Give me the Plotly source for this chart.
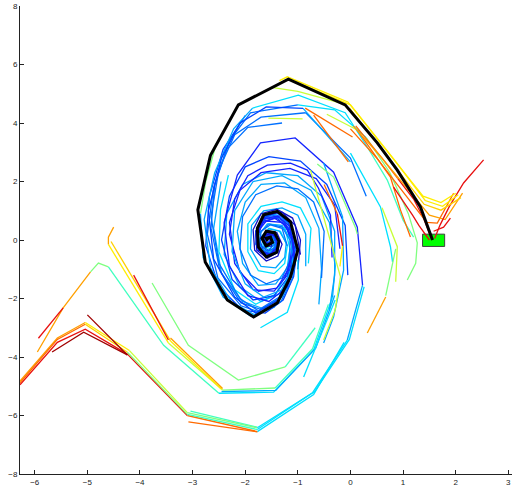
import plotly.graph_objects as go

# ---------------- data: trajectory pieces (x, y) in data units ----------------
black_path = [(1.56,0.0),(1.33,1.13),(0.89,2.39),(0.51,3.32),(-0.1,4.62),(-1.18,5.5),(-2.13,4.62),
              (-2.66,2.9),(-2.9,1.03),(-2.76,-0.75),(-2.34,-2.05),(-1.84,-2.63),(-1.39,-2.15),(-1.14,-1.26),
              (-1.0,-0.34),(-1.14,0.62),(-1.39,0.98),(-1.65,0.86),(-1.77,0.4),(-1.75,-0.24),(-1.6,-0.58),
              (-1.4,-0.42),(-1.36,-0.05),(-1.44,0.25),(-1.6,0.3),(-1.68,0.05),(-1.6,-0.2),(-1.48,-0.08),
              (-1.52,0.1),(-1.6,0.06),(-1.57,-0.03)]

# lower-left wave bundle
wave_a_or = [(-6.28,-4.88),(-5.57,-3.4),(-5.04,-2.88)]
wave_a_ye = [(-5.04,-2.88),(-4.24,-3.84)]
wave_a_gr = [(-4.24,-3.84),(-3.1,-5.96)]
wave_a_te = [(-3.1,-5.96),(-1.77,-6.48)]
wave_a_cy = [(-1.77,-6.48),(-0.72,-5.22),(-0.06,-3.42)]
wave_a_sk = [(-0.06,-3.42),(0.23,-1.54)]
wave_b_rd = [(-6.28,-4.95),(-5.57,-3.5),(-5.04,-3.05),(-4.24,-3.9),(-3.1,-6.0)]
wave_b_or = [(-3.1,-6.0),(-1.77,-6.55)]
wave_b_cy = [(-1.77,-6.55),(-0.7,-5.28),(-0.12,-3.5)]
wave_c_am = [(-6.28,-4.82),(-5.57,-3.35),(-5.04,-2.82)]
wave_c_ye = [(-5.04,-2.82),(-4.2,-3.78)]
wave_c_yg = [(-4.2,-3.78),(-3.1,-5.9)]
wave_c_gr = [(-3.1,-5.9),(-1.77,-6.42)]
wave_c_cy = [(-1.77,-6.42),(-0.68,-5.18),(-0.02,-3.4),(0.26,-1.6)]
low_or = [(-3.08,-6.22),(-1.77,-6.56)]
low_te = [(-3.04,-5.85),(-1.77,-6.4)]
wu_or = [(-5.95,-3.83),(-5.46,-2.32),(-4.94,-1.09)]
wu_rd = [(-5.93,-3.36),(-5.46,-2.32)]
wu_gr = [(-4.94,-1.09),(-4.79,-0.79),(-4.6,-0.92)]
wu_te = [(-4.6,-0.92),(-3.55,-3.6),(-2.5,-5.24)]
wu_cy = [(-2.5,-5.24),(-1.46,-5.2),(-0.7,-3.76),(-0.34,-1.95)]
wu2_cy = [(-2.45,-5.18),(-1.42,-5.14),(-0.66,-3.7),(-0.3,-1.9)]
wy_am = [(-4.5,0.44),(-4.6,0.1),(-4.6,-0.15)]
wy_ye = [(-4.6,-0.15),(-3.46,-3.52)]
wy_yg = [(-3.46,-3.52),(-2.43,-5.13)]
wy_gr = [(-2.43,-5.13),(-1.43,-5.06)]
wy_te = [(-1.43,-5.06),(-0.72,-3.72),(-0.42,-2.2)]
wy2_go = [(-4.55,-0.05),(-3.42,-3.45)]
wy2_ye = [(-3.42,-3.45),(-2.45,-5.1)]
mid_am = [(-3.42,-3.35),(-2.43,-5.08)]
mid_rd = [(-4.12,-1.2),(-3.46,-3.42)]
mid_gr = [(-3.77,-1.47),(-3.08,-3.6),(-2.13,-4.79),(-1.24,-4.34)]
mid_te = [(-1.24,-4.34),(-0.67,-3.0)]
dr_a = [(-5.0,-2.56),(-4.24,-3.93)]
dr_b = [(-5.67,-3.83),(-5.07,-3.15),(-4.24,-3.93)]

# upper-right bundle near the box
ub_y1 = [(2.0,1.6),(1.72,1.28),(1.38,1.5),(0.78,2.85),(-0.05,4.72),(-1.2,5.58),(-1.35,5.45)]
ub_y2 = [(2.05,1.55),(1.75,1.15),(1.42,1.35),(0.85,2.7),(0.0,4.62),(-1.1,5.45)]
ub_y3 = [(2.1,1.45),(1.72,1.02),(1.4,1.22),(0.8,2.6),(-0.02,4.52)]
ub_o1 = [(2.13,1.6),(1.8,0.7),(1.5,0.85),(1.15,1.6),(0.6,2.8),(0.05,3.9)]
ub_o2 = [(1.96,1.6),(1.65,0.58),(1.45,0.6),(1.1,1.4),(0.5,2.8),(0.0,3.8)]
ub_r1 = [(2.53,2.74),(2.15,1.95),(1.88,1.15),(1.7,0.5),(1.6,0.05)]
ub_r2 = [(1.9,0.75),(1.77,0.44),(1.58,0.3)]
ub_r3 = [(1.55,0.0),(1.4,0.7),(1.2,1.4),(0.9,2.1)]
ub_r3o = [(0.9,2.1),(0.6,2.8),(0.1,3.9)]
ub_r4 = [(1.5,0.0),(1.3,0.5),(1.18,0.85),(0.82,1.81)]
ub_o3 = [(1.14,0.1),(0.95,1.03),(0.76,2.15),(0.13,3.76)]
ub_o3g = [(0.13,3.76),(-0.45,4.3)]
ub_te = [(1.2,0.1),(1.0,0.68),(0.7,2.05),(0.32,3.18)]
ub_tec = [(0.32,3.18),(-0.1,4.35),(-0.99,4.95),(-1.86,4.51)]
ub_gr = [(1.08,-1.37),(1.24,-0.8),(1.27,-0.1),(1.1,0.9),(0.75,2.3),(0.3,3.5)]
ub_grc = [(0.3,3.5),(-0.3,4.45),(-1.0,4.62)]
top_yg = [(-0.13,4.65),(-1.0,5.08),(-1.5,5.22)]
in_or1 = [(-0.86,4.51),(0.04,3.52)]
in_or2 = [(-0.7,4.27),(-0.04,2.67)]
in_yg = [(-1.56,4.17),(-0.91,4.14)]

# spiral strands
sp1 = [(0.23,-1.54),(0.13,0.44),(-0.32,2.32),(-1.05,3.49),(-1.71,3.32),(-2.15,2.22),(-2.4,0.6),(-2.3,-0.9),
       (-1.95,-1.9),(-1.55,-2.1),(-1.2,-1.6),(-1.05,-0.8),(-1.1,0.1),(-1.3,0.6),(-1.6,0.65),(-1.8,0.2),
       (-1.75,-0.35),(-1.55,-0.5),(-1.38,-0.25),(-1.42,0.15),(-1.58,0.22),(-1.66,0.0),(-1.58,-0.15),(-1.5,0.0),(-1.56,0.05)]
sp2 = [(-0.34,-1.95),(-0.29,-0.9),(-0.4,0.6),(-0.75,1.7),(-1.3,2.2),(-1.85,2.0),(-2.2,1.0),(-2.25,-0.4),
       (-2.0,-1.5),(-1.65,-1.95),(-1.3,-1.7),(-1.1,-0.9),(-1.12,-0.05),(-1.3,0.5),(-1.58,0.55),(-1.75,0.15),
       (-1.7,-0.3),(-1.52,-0.42),(-1.42,-0.15),(-1.5,0.12),(-1.6,0.08),(-1.57,-0.05)]
sp3a = [(0.0,2.67),(-0.9,4.5)]
sp3 = [(-0.9,4.5),(-1.6,4.55),(-2.1,4.0),(-2.45,2.8),(-2.7,1.0),(-2.6,-0.65),(-2.2,-1.95),(-1.8,-2.5),
       (-1.38,-2.05),(-1.15,-1.2),(-1.05,-0.35),(-1.18,0.6),(-1.4,0.95),(-1.66,0.75),(-1.76,0.22),(-1.7,-0.4),
       (-1.52,-0.55),(-1.4,-0.25),(-1.44,0.14),(-1.58,0.25),(-1.64,0.02),(-1.57,-0.12),(-1.52,0.0)]
sp4a = [(0.3,1.5),(0.0,2.8),(-0.85,4.35)]
sp4 = [(-0.85,4.35),(-1.7,4.2),(-2.2,3.6),(-2.5,2.4),(-2.65,0.8),(-2.5,-0.8),(-2.1,-2.0),(-1.75,-2.42),
       (-1.35,-2.0),(-1.12,-1.1),(-1.1,-0.2),(-1.25,0.62),(-1.5,0.88),(-1.72,0.6),(-1.78,0.05),(-1.62,-0.45),
       (-1.45,-0.4),(-1.4,-0.05),(-1.5,0.2),(-1.62,0.12),(-1.6,-0.08)]
sp5 = [(-1.86,4.51),(-2.22,3.8),(-2.58,2.3),(-2.78,0.7),(-2.66,-0.95),(-2.26,-2.12),(-1.82,-2.56),(-1.42,-2.2),
       (-1.18,-1.4),(-1.06,-0.5),(-1.14,0.45),(-1.36,0.9),(-1.64,0.8),(-1.8,0.3),(-1.76,-0.3),(-1.56,-0.55),
       (-1.4,-0.35),(-1.38,0.05),(-1.5,0.24),(-1.64,0.14),(-1.62,-0.1),(-1.54,-0.08)]
sp6 = [(-1.0,4.62),(-1.9,4.35),(-2.3,3.4),(-2.6,1.8),(-2.72,0.2),(-2.52,-1.3),(-2.08,-2.25),(-1.7,-2.48),
       (-1.32,-2.1),(-1.1,-1.3),(-1.02,-0.45),(-1.12,0.4),(-1.32,0.82),(-1.6,0.82),(-1.78,0.42),(-1.8,-0.15),
       (-1.64,-0.52),(-1.44,-0.48),(-1.36,-0.15),(-1.44,0.18),(-1.58,0.22),(-1.64,0.04),(-1.56,-0.06)]
sp7g = [(-2.55,3.3),(-2.75,2.0),(-2.85,0.9)]
sp7 = [(-2.85,0.9),(-2.8,-0.6),(-2.42,-1.95),(-1.9,-2.6),(-1.45,-2.3),(-1.2,-1.6),(-1.08,-0.7)]
sp8 = [(-2.32,2.22),(-2.47,1.03),(-2.5,-0.4),(-2.2,-1.7),(-1.8,-2.2),(-1.42,-1.85),(-1.2,-1.1),(-1.15,-0.3),(-1.25,0.45)]
sp9 = [(-2.46,2.0),(-2.6,0.4),(-2.45,-1.15),(-2.05,-2.1),(-1.65,-2.35),(-1.3,-1.95),(-1.1,-1.15),(-1.08,-0.2)]
sp10 = [(-2.0,4.25),(-2.42,3.1),(-2.68,1.5),(-2.75,-0.2),(-2.5,-1.6),(-2.05,-2.4),(-1.62,-2.5),(-1.28,-2.05),
        (-1.08,-1.25),(-1.02,-0.4)]
sp11 = [(-1.3,4.0),(-1.95,3.85),(-2.35,3.1),(-2.58,1.9),(-2.65,0.4),(-2.48,-1.05),(-2.08,-2.15),(-1.72,-2.36),
        (-1.35,-1.95),(-1.15,-1.2)]
m1 = [(-0.35,-0.6),(-0.38,0.85),(-0.61,1.78),(-0.82,2.39),(-1.14,2.63),(-1.58,2.56),(-1.95,2.2),(-2.2,1.4),
      (-2.3,0.2),(-2.1,-1.1),(-1.75,-1.75),(-1.4,-1.65),(-1.18,-1.0),(-1.1,-0.2),(-1.22,0.48),(-1.45,0.75),
      (-1.68,0.58),(-1.76,0.1),(-1.65,-0.35),(-1.48,-0.38),(-1.42,-0.1),(-1.5,0.12),(-1.6,0.1),(-1.58,-0.04)]
m2 = [(-0.55,-1.3),(-0.5,0.3),(-0.7,1.3),(-1.0,1.75),(-1.4,1.85),(-1.8,1.55),(-2.05,0.8),(-2.1,-0.3),
      (-1.9,-1.2),(-1.6,-1.5),(-1.3,-1.3),(-1.15,-0.7),(-1.15,0.0),(-1.3,0.45),(-1.55,0.55),(-1.72,0.25),
      (-1.7,-0.2),(-1.55,-0.35),(-1.45,-0.15),(-1.5,0.08),(-1.6,0.06)]
m3 = [(-0.8,-0.8),(-0.75,0.4),(-0.95,1.1),(-1.3,1.3),(-1.7,1.15),(-1.95,0.55),(-1.95,-0.4),(-1.75,-1.05),
      (-1.45,-1.15),(-1.25,-0.8),(-1.2,-0.2),(-1.33,0.3),(-1.55,0.4),(-1.68,0.15),(-1.66,-0.2),(-1.52,-0.3),(-1.46,-0.08)]
m4 = [(-0.05,-1.2),(-0.1,0.5),(-0.45,1.9),(-0.95,2.7),(-1.55,2.85),(-2.0,2.5),(-2.3,1.5),(-2.45,0.0),
      (-2.25,-1.35),(-1.85,-2.05),(-1.45,-1.9),(-1.2,-1.3),(-1.08,-0.5),(-1.15,0.35),(-1.35,0.78),(-1.62,0.72),
      (-1.78,0.25),(-1.72,-0.35),(-1.52,-0.48),(-1.4,-0.2),(-1.46,0.14),(-1.58,0.16),(-1.6,-0.02)]
m5 = [(-0.6,-2.2),(-0.55,-1.0),(-0.6,0.4),(-0.85,1.45),(-1.25,1.95),(-1.7,1.9),(-2.0,1.3),(-2.15,0.3),
      (-2.05,-0.8),(-1.75,-1.55),(-1.42,-1.5),(-1.2,-0.95),(-1.15,-0.3)]
m6 = [(-0.2,-0.3),(-0.3,1.2),(-0.65,2.1),(-1.15,2.45),(-1.7,2.3),(-2.1,1.7),(-2.3,0.6),(-2.2,-0.8),(-1.85,-1.7),
      (-1.45,-1.75),(-1.2,-1.2),(-1.1,-0.4),(-1.18,0.4),(-1.4,0.75),(-1.65,0.65),(-1.77,0.15),(-1.68,-0.38),
      (-1.5,-0.45),(-1.4,-0.15),(-1.48,0.14),(-1.6,0.12)]
m7 = [(-0.85,-0.9),(-0.85,0.2),(-1.0,0.85),(-1.3,1.1),(-1.65,1.0),(-1.88,0.5),(-1.9,-0.3),(-1.7,-0.9),
      (-1.42,-0.95),(-1.25,-0.6),(-1.22,-0.1),(-1.35,0.3),(-1.55,0.38),(-1.66,0.12),(-1.62,-0.18),(-1.5,-0.22)]
m8 = [(-0.4,-2.4),(-0.3,-1.2),(-0.3,0.3),(-0.55,1.5),(-1.0,2.2),(-1.6,2.3),(-2.05,1.9),(-2.35,0.9),(-2.4,-0.5),
      (-2.1,-1.6),(-1.7,-2.1),(-1.35,-1.85),(-1.15,-1.15),(-1.1,-0.35)]
m9 = [(-1.0,-1.0),(-0.95,0.0),(-1.1,0.75),(-1.4,1.05),(-1.7,0.9),(-1.85,0.35),(-1.82,-0.35),(-1.6,-0.72),
      (-1.38,-0.55),(-1.3,-0.15),(-1.4,0.25),(-1.58,0.32),(-1.7,0.08),(-1.62,-0.22),(-1.5,-0.2),(-1.5,0.0)]
i1 = [(-0.95,-0.5),(-1.05,0.5),(-1.3,0.95),(-1.62,0.85),(-1.8,0.3),(-1.78,-0.35),(-1.58,-0.62),(-1.38,-0.42),
      (-1.35,-0.05),(-1.48,0.22),(-1.62,0.18),(-1.66,-0.05),(-1.58,-0.2),(-1.5,-0.08),(-1.53,0.06),(-1.58,0.04)]
i2 = [(-1.25,-1.3),(-1.08,-0.4),(-1.15,0.45),(-1.38,0.82),(-1.66,0.72),(-1.78,0.2),(-1.7,-0.42),(-1.5,-0.5),
      (-1.38,-0.2),(-1.45,0.16),(-1.6,0.18),(-1.63,-0.04),(-1.55,-0.12)]
i3 = [(-1.2,-0.2),(-1.3,0.4),(-1.52,0.52),(-1.7,0.3),(-1.72,-0.15),(-1.58,-0.38),(-1.44,-0.28),(-1.42,0.0),
      (-1.5,0.14),(-1.6,0.1),(-1.6,-0.05)]
cy_short = [(-1.71,-3.0),(-1.2,-2.47),(-0.99,-1.37),(-1.0,-0.68)]
cy_mid = [(-0.51,2.63),(-0.15,0.79),(-0.13,-1.03),(-0.32,-2.63),(-0.51,-3.52)]
gr_mid = [(-0.63,2.6),(-0.32,2.15),(0.1,0.4),(0.13,0.2)]
or_mid = [(-0.5,1.9),(-0.25,0.9)]
rd_mid = [(-0.25,0.9),(-0.15,-0.2)]
ye_mid = [(-0.15,-0.2),(-0.2,-0.9)]
yg_mid = [(-0.76,2.39),(-0.51,0.79),(-0.19,-1.26),(-0.29,-2.39),(-0.51,-3.42)]
cy_low = [(-0.29,-2.05),(-0.89,-4.68)]
cy_r1 = [(0.0,2.97),(0.57,1.13),(0.76,-0.23),(0.8,-0.75)]
yg_r1 = [(0.6,1.1),(0.89,-0.23),(0.86,-1.43)]
gr_r2 = [(0.86,-0.3),(0.67,-1.9)]
or_r2 = [(0.67,-1.95),(0.32,-3.18)]

# box around the start point (centre, half-width, half-height)
box_center = (1.58, -0.01)
box_half = (0.21, 0.21)

x_ticks = [-6, -5, -4, -3, -2, -1, 0, 1, 2, 3]
y_ticks = [-8, -6, -4, -2, 0, 2, 4, 6, 8]

# ---------------- styles ----------------
DR, RD, OR, AM, GO, YE = '#a00000', '#e81010', '#ff6a00', '#ffa000', '#ffd000', '#ffee00'
YG, GR, TE, CY, SK, LB = '#c8ff38', '#80ff80', '#40ffc0', '#00e0ff', '#00a8ff', '#0070ff'
MB, BL, DB = '#0044ff', '#1424ff', '#1010c8'

pieces = [
    (wave_b_rd, RD), (wave_b_or, OR), (wave_b_cy, CY), (low_or, OR), (low_te, TE),
    (wave_c_am, AM), (wave_c_ye, YE), (wave_c_yg, YG), (wave_c_gr, GR), (wave_c_cy, CY),
    (wave_a_or, OR), (wave_a_ye, GO), (wave_a_gr, GR), (wave_a_te, TE), (wave_a_cy, CY), (wave_a_sk, SK),
    (wu_or, AM), (wu_rd, RD), (wu_gr, GR), (wu_te, TE), (wu_cy, CY), (wu2_cy, SK),
    (wy_am, AM), (wy_ye, YE), (wy_yg, YG), (wy_gr, GR), (wy_te, TE),
    (wy2_go, GO), (wy2_ye, YE), (mid_am, AM), (mid_rd, RD), (mid_gr, GR), (mid_te, TE),
    (dr_a, DR), (dr_b, DR),
    (sp9, SK), (sp8, CY), (sp7g, GR), (sp7, SK), (sp10, MB), (sp11, LB), (m5, SK), (m3, CY), (m7, SK),
    (m2, LB), (m8, SK), (sp6, LB), (sp5, SK), (m6, BL),
    (sp4a, LB), (sp4, LB), (sp3a, SK), (sp3, MB), (m4, MB), (m1, BL), (sp2, SK), (sp1, BL),
    (i3, LB), (m9, DB), (i2, BL), (i1, DB),
    (cy_short, CY), (cy_mid, SK), (yg_mid, YG), (gr_mid, GR), (or_mid, OR), (rd_mid, RD), (ye_mid, YE),
    (cy_low, CY), (cy_r1, CY), (yg_r1, YG), (gr_r2, GR), (or_r2, AM),
    (ub_gr, GR), (ub_grc, CY), (ub_te, TE), (ub_tec, CY), (ub_o3, OR), (ub_o3g, YG),
    (ub_r4, RD), (ub_r3, RD), (ub_r3o, OR), (ub_o2, OR), (ub_o1, AM), (ub_r1, RD), (ub_r2, RD),
    (ub_y3, GO), (ub_y2, YE), (ub_y1, YE), (top_yg, YG), (in_or1, OR), (in_or2, OR), (in_yg, YG),
]

fig = go.Figure()
for pts, col in pieces:
    fig.add_trace(go.Scatter(x=[p[0] for p in pts], y=[p[1] for p in pts], mode='lines',
                             line=dict(color=col, width=1.3), hoverinfo='skip', showlegend=False))
fig.add_trace(go.Scatter(x=[p[0] for p in black_path], y=[p[1] for p in black_path], mode='lines',
                         line=dict(color='black', width=3), hoverinfo='skip', showlegend=False))

fig.add_shape(type='rect', xref='x', yref='y',
              x0=box_center[0] - box_half[0], x1=box_center[0] + box_half[0],
              y0=box_center[1] - box_half[1], y1=box_center[1] + box_half[1],
              fillcolor='#00ff00', line=dict(color='#404040', width=1), layer='below')

axis_common = dict(showgrid=False, zeroline=False, showline=True, linecolor='#222', linewidth=1,
                   ticks='inside', ticklen=4, tickcolor='#222', mirror=False, automargin=False,
                   tickfont=dict(family='Liberation Sans, Arial, sans-serif', size=8, color='#222'))
fig.update_xaxes(range=[-6.28, 3.07], tickvals=x_ticks, **axis_common)
fig.update_yaxes(range=[-8, 8], tickvals=y_ticks, **axis_common)
fig.update_layout(width=514, height=488, margin=dict(l=20, r=2, t=6, b=14),
                  plot_bgcolor='white', paper_bgcolor='white', showlegend=False)
fig.write_html("out.html", config={'displayModeBar': False},
               post_script="document.body.style.margin='0px';document.body.style.overflow='hidden';")
